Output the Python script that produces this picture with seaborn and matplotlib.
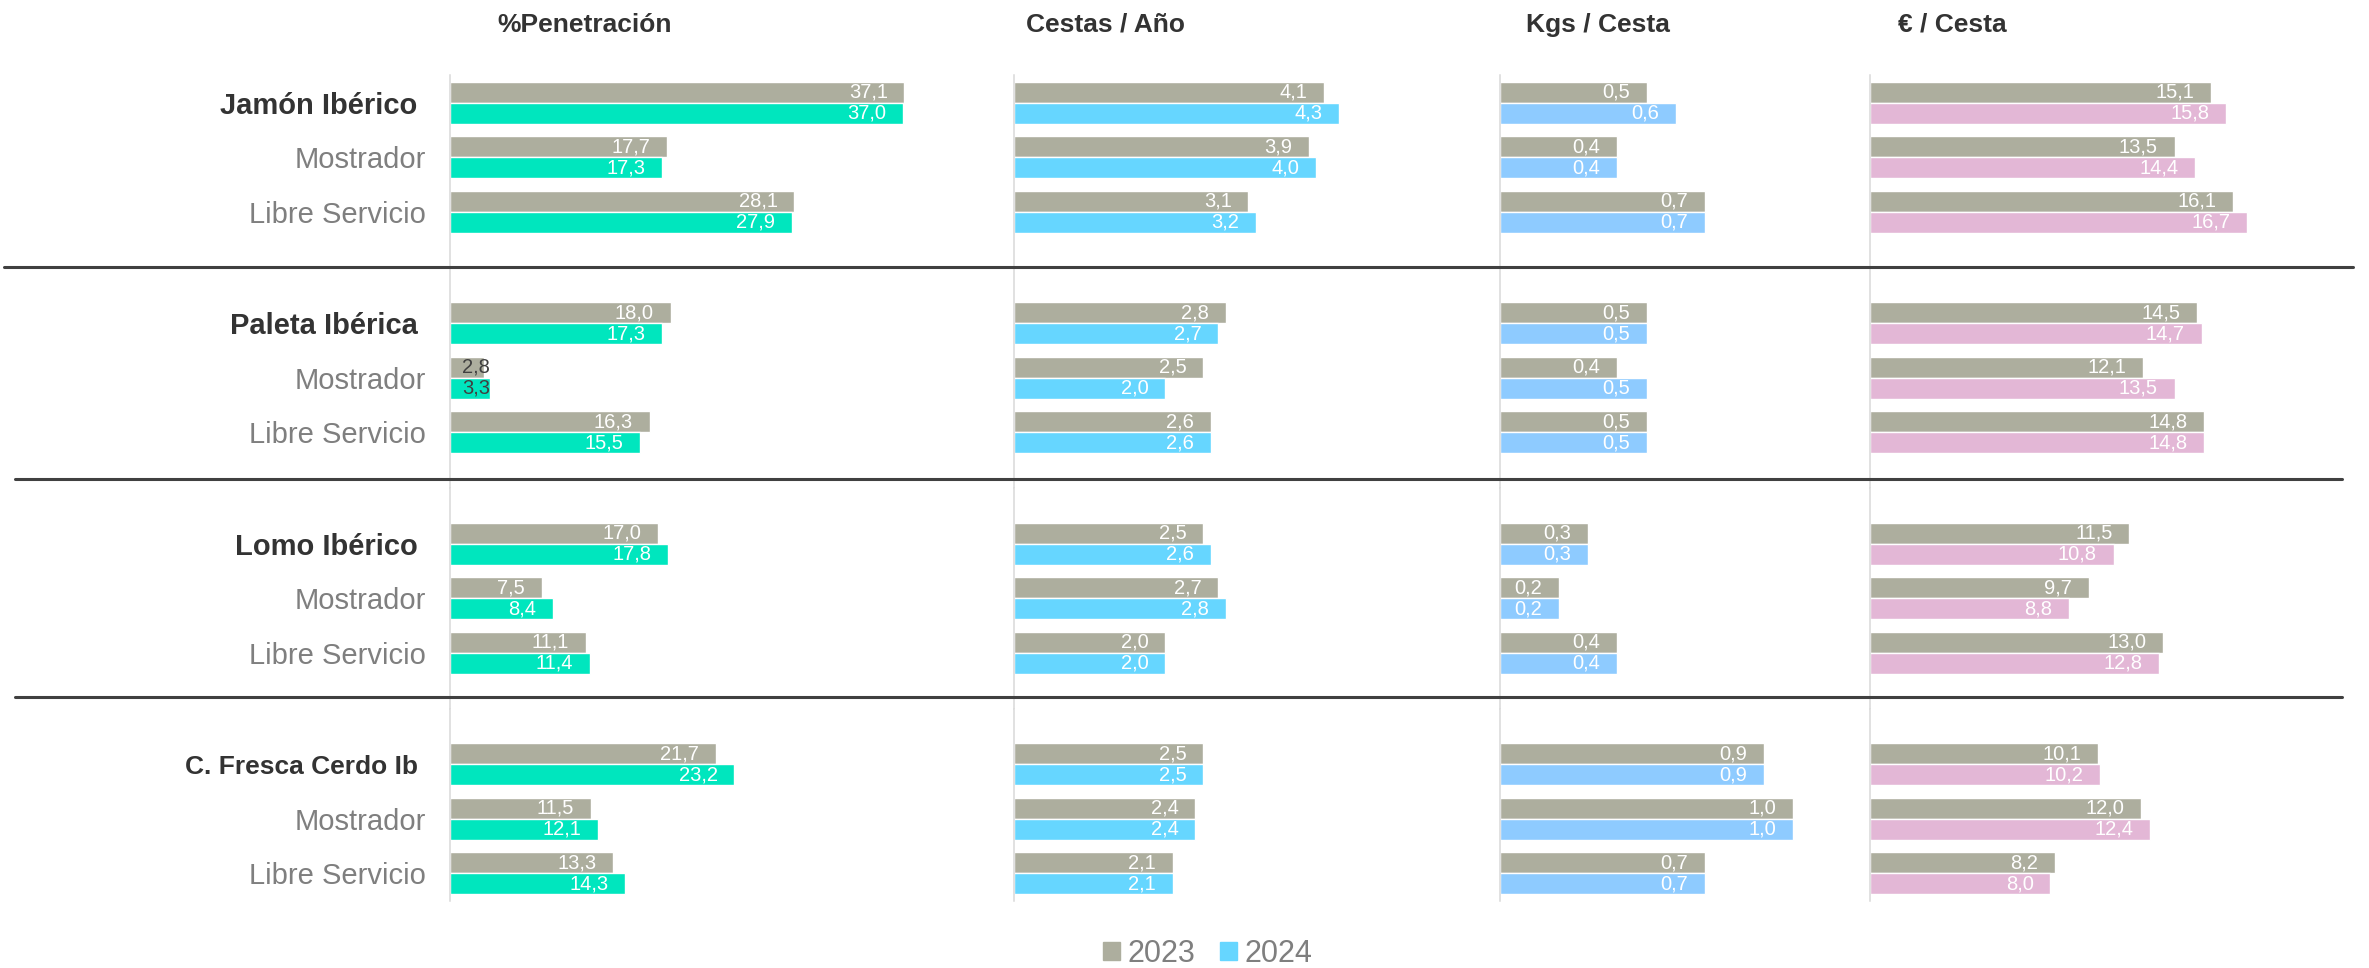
import numpy as np
import pandas as pd
import matplotlib.pyplot as plt
import seaborn as sns
from matplotlib.lines import Line2D
from matplotlib.patches import Patch

# datos
grupos = ['Jamón Ibérico', 'Paleta Ibérica', 'Lomo Ibérico', 'C. Fresca Cerdo Ib']
subcats = ['Total', 'Mostrador', 'Libre Servicio']
anios = ['2023', '2024']

pen_2023 = [37.1, 17.7, 28.1, 18.0, 2.8, 16.3, 17.0, 7.5, 11.1, 21.7, 11.5, 13.3]
pen_2024 = [37.0, 17.3, 27.9, 17.3, 3.3, 15.5, 17.8, 8.4, 11.4, 23.2, 12.1, 14.3]
cestas_2023 = [4.1, 3.9, 3.1, 2.8, 2.5, 2.6, 2.5, 2.7, 2.0, 2.5, 2.4, 2.1]
cestas_2024 = [4.3, 4.0, 3.2, 2.7, 2.0, 2.6, 2.6, 2.8, 2.0, 2.5, 2.4, 2.1]
kgs_2023 = [0.5, 0.4, 0.7, 0.5, 0.4, 0.5, 0.3, 0.2, 0.4, 0.9, 1.0, 0.7]
kgs_2024 = [0.6, 0.4, 0.7, 0.5, 0.5, 0.5, 0.3, 0.2, 0.4, 0.9, 1.0, 0.7]
euro_2023 = [15.1, 13.5, 16.1, 14.5, 12.1, 14.8, 11.5, 9.7, 13.0, 10.1, 12.0, 8.2]
euro_2024 = [15.8, 14.4, 16.7, 14.7, 13.5, 14.8, 10.8, 8.8, 12.8, 10.2, 12.4, 8.0]

titulos = ['%Penetración', 'Cestas / Año', 'Kgs / Cesta', '€ / Cesta']
series = [(pen_2023, pen_2024), (cestas_2023, cestas_2024),
          (kgs_2023, kgs_2024), (euro_2023, euro_2024)]

gris = '#ADAE9E'
colores_2024 = ['#00E6BE', '#66D6FF', '#8ECBFF', '#E3B7D6']

sns.set_style('white')
plt.rcParams['font.family'] = ['Liberation Sans', 'DejaVu Sans']

W, H = 2369, 968
fig = plt.figure(figsize=(W / 100, H / 100), dpi=100)

# geometría (px)
col_x = [450, 1014, 1500, 1870]
col_w = [530, 446, 340, 480]
col_scale = [12.25, 75.6, 293.0, 22.56]  # px por unidad
u = 54.45       # px por categoría
e = 0.51        # margen arriba/abajo
h = 1.025       # medio hueco entre grupos
y_top = 75
row_units = [(e, h), (h, h), (h, h), (h, e)]

y = y_top
for r, grupo in enumerate(grupos):
    m_top, m_bot = row_units[r]
    alto = (m_top + 2 + m_bot) * u
    for c in range(4):
        ax = fig.add_axes([col_x[c] / W, 1 - (y + alto) / H, col_w[c] / W, alto / H])
        v23 = series[c][0][r * 3:r * 3 + 3]
        v24 = series[c][1][r * 3:r * 3 + 3]
        df = pd.DataFrame({
            'cat': subcats * 2,
            'anio': ['2023'] * 3 + ['2024'] * 3,
            'valor': v23 + v24,
        })
        sns.barplot(data=df, y='cat', x='valor', hue='anio', orient='h',
                    palette=[gris, colores_2024[c]], width=0.772, saturation=1,
                    legend=False, ax=ax)
        ax.set_xlim(0, col_w[c] / col_scale[c])
        ax.set_ylim(2 + m_bot, -m_top)
        ax.set_xlabel('')
        ax.set_ylabel('')
        ax.set_xticks([])
        for s in ['top', 'right', 'bottom']:
            ax.spines[s].set_visible(False)
        ax.spines['left'].set_color('#D9D9D9')
        ax.spines['left'].set_linewidth(1.1)
        ax.tick_params(left=False)

        # etiquetas de valor
        for cont in ax.containers:
            for bar in cont:
                w = bar.get_width()
                yc = bar.get_y() + bar.get_height() / 2
                txt = f'{w:.1f}'.replace('.', ',')
                if w * col_scale[c] > 50:
                    ax.annotate(txt, (w, yc), xytext=(-12, 0), textcoords='offset points',
                                ha='right', va='center', color='white', fontsize=14.5)
                else:
                    ax.annotate(txt, (0, yc), xytext=(8.6, 0), textcoords='offset points',
                                ha='left', va='center', color='#404040', fontsize=14.5)

        if c == 0:
            ax.set_yticks([0, 1, 2])
            ax.set_yticklabels([grupo + ' ', 'Mostrador', 'Libre Servicio'])
            ax.tick_params(axis='y', pad=14)
            for i, t in enumerate(ax.get_yticklabels()):
                if i == 0:
                    t.set_fontweight('bold')
                    t.set_color('#333333')
                    t.set_fontsize(19 if grupo.startswith('C.') else 21)
                else:
                    t.set_color('#7F7F7F')
                    t.set_fontsize(21)
        else:
            ax.set_yticks([])
    y += alto

# títulos de columna
tit_x = [497, 1026, 1526, 1898]
for t, x in zip(titulos, tit_x):
    fig.text(x / W, 1 - 25 / H, t, ha='left', va='center', fontsize=19,
             fontweight='bold', color='#333333')

# separadores
for yy, x0, x1 in [(267.3, 4, 2353), (478.7, 15, 2342), (696.7, 15, 2342)]:
    fig.add_artist(Line2D([x0 / W, x1 / W], [1 - yy / H, 1 - yy / H],
                          color='#404040', linewidth=2.2, transform=fig.transFigure))

# leyenda
fig.legend(handles=[Patch(color=gris, label='2023'), Patch(color='#66D6FF', label='2024')],
           loc='center', bbox_to_anchor=(1208 / W, 1 - 954 / H), ncol=2, frameon=False,
           fontsize=22, handlelength=0.55, handleheight=0.55, handletextpad=0.26,
           columnspacing=0.8, labelcolor='#7F7F7F', borderaxespad=0, borderpad=0)

fig.savefig('out.png', dpi=100)
